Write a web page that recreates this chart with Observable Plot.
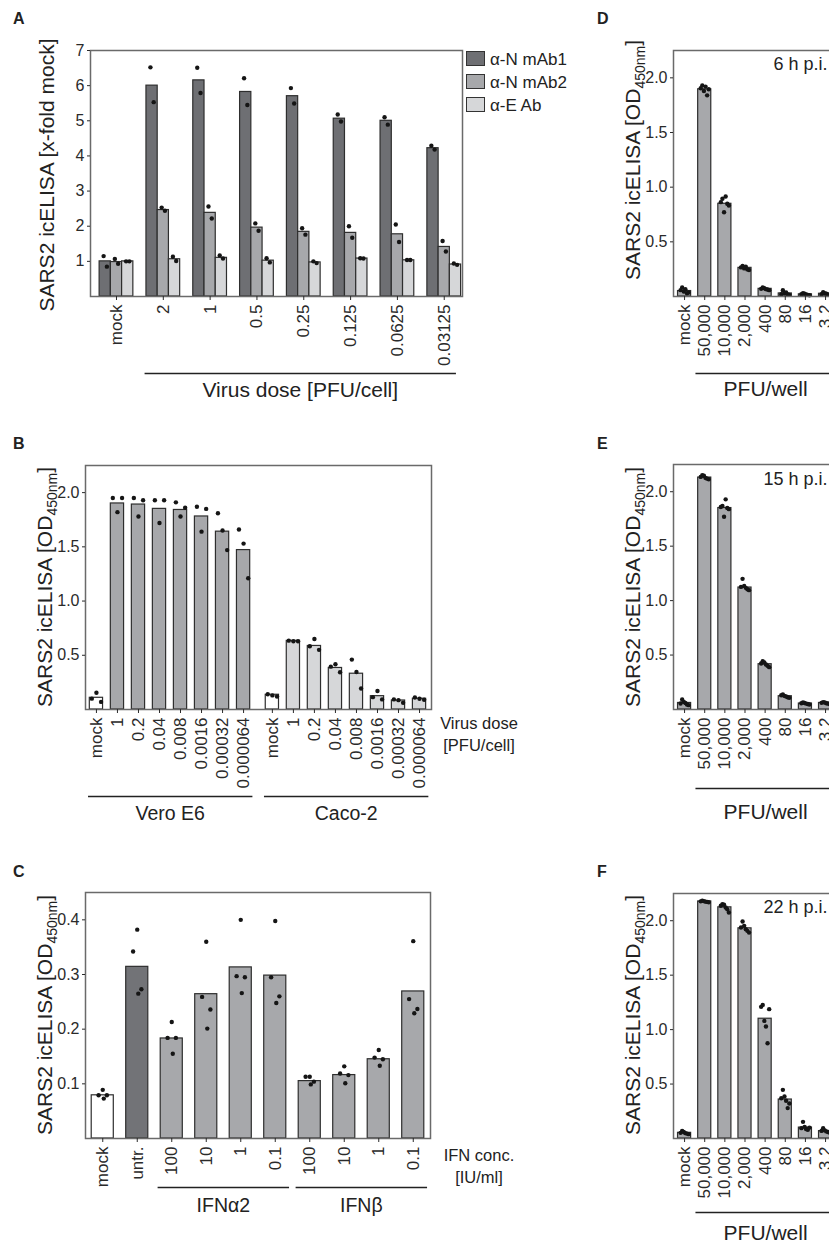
<!DOCTYPE html>
<html><head><meta charset="utf-8">
<script src="https://cdn.jsdelivr.net/npm/d3@7"></script>
<script src="https://cdn.jsdelivr.net/npm/@observablehq/plot@0.6"></script>
<style>
html,body{margin:0;padding:0;background:#fff;overflow:hidden}
#fig{position:relative;width:829px;height:1242px;overflow:hidden;font-family:"Liberation Sans",Arial,sans-serif;color:#222;background:#fff}
.abs{position:absolute;white-space:nowrap}
.letter{font-weight:bold;font-size:16px;line-height:1}
.ylab{font-size:21px;line-height:1;transform:translate(-50%,-50%) rotate(-90deg)}
.sub{font-size:14px;position:relative;top:5px}
.side{font-size:16.5px;text-align:center;transform:translateX(-50%);line-height:22px}
.sw{position:absolute;width:17px;height:13px;border:1px solid #333}
.lg{position:absolute;font-size:17px;line-height:1;transform:translateY(-50%)}
</style></head><body><div id="fig"></div><script>
// ---------- Panel A data ----------
const aGroups = ["mock","2","1","0.5","0.25","0.125","0.0625","0.03125"];
const aSeries = ["α-N mAb1","α-N mAb2","α-E Ab"];
const aMAb1 = [1.0, 6.0, 6.15, 5.82, 5.70, 5.06, 5.0, 4.22];
const aMAb2 = [0.98, 2.46, 2.38, 1.96, 1.84, 1.81, 1.77, 1.41];
const aEAb  = [1.0, 1.06, 1.10, 1.02, 0.97, 1.08, 1.03, 0.91];
const aMAb1Dots = [[1.15,0.85],[6.52,5.53],[6.51,5.79],[6.21,5.45],[5.93,5.49],[5.18,4.98],[5.10,4.89],[4.29,4.18]];
const aMAb2Dots = [[1.07,0.93],[2.53,2.44],[2.56,2.22],[2.08,1.87],[1.94,1.76],[2.0,1.67],[2.05,1.55],[1.58,1.28]];
const aEAbDots  = [[1.0,1.0],[1.13,1.01],[1.17,1.08],[1.09,0.97],[1.0,0.95],[1.09,1.08],[1.04,1.04],[0.94,0.90]];
const aYTicks = [1,2,3,4,5,6,7];

// ---------- Panel B data ----------
const bDoses = ["mock","1","0.2","0.04","0.008","0.0016","0.00032","0.000064"];
const bCells = ["Vero E6","Caco-2"];
const bVeroMeans = [0.108, 1.90, 1.89, 1.85, 1.84, 1.78, 1.64, 1.47];
const bCacoMeans = [0.136, 0.633, 0.586, 0.383, 0.33, 0.123, 0.083, 0.099];
const bVeroDots = [[0.10,0.154,0.07],[1.95,1.82,1.95],[1.95,1.78,1.93],[1.93,1.72,1.93],[1.91,1.78,1.86],[1.87,1.64,1.85],[1.81,1.65,1.47],[1.66,1.53,1.21]];
const bCacoDots = [[0.14,0.13,0.12],[0.635,0.63,0.63],[0.583,0.65,0.55],[0.395,0.417,0.343],[0.46,0.346,0.194],[0.114,0.17,0.093],[0.093,0.086,0.062],[0.111,0.099,0.09]];
const bYTicks = [0.5,1.0,1.5,2.0];

// ---------- Panel C data ----------
const cLabels = ["mock","untr.","100","10","1","0.1","100","10","1","0.1"];
const cTreat = ["mock","untr.","IFNα2","IFNα2","IFNα2","IFNα2","IFNβ","IFNβ","IFNβ","IFNβ"];
const cMeans = [0.079, 0.314, 0.183, 0.264, 0.313, 0.298, 0.105, 0.116, 0.145, 0.269];
const cDots = [[0.089,0.079,0.079,0.073],[0.382,0.342,0.273,0.265],[0.213,0.184,0.184,0.155],[0.36,0.259,0.236,0.201],
               [0.40,0.297,0.295,0.266],[0.398,0.295,0.26,0.248],[0.113,0.113,0.104,0.099],[0.132,0.119,0.116,0.101],
               [0.162,0.148,0.145,0.133],[0.361,0.255,0.237,0.229]];
const cYTicks = [0.1,0.2,0.3,0.4];

// ---------- Panels D/E/F data ----------
const pfuLabels = ["mock","50,000","10,000","2,000","400","80","16","3.2"];
const dfTicks = [0.5,1.0,1.5,2.0];
const dMeans = [0.05, 1.895, 0.848, 0.262, 0.07, 0.028, 0.02, 0.025];
const dDots = [[0.058,0.083,0.046,0.067,0.03,0.037],[1.905,1.93,1.88,1.92,1.84,1.895],[0.863,0.894,0.771,0.915,0.848,0.833],
               [0.266,0.28,0.257,0.272,0.248,0.242],[0.07,0.083,0.076,0.067,0.064,0.058],[0.021,0.058,0.03,0.037,0.018,0.015],
               [0.02,0.03,0.025,0.018,0.015,0.012],[0.02,0.04,0.03,0.025,0.018,0.015]];
const eMeans = [0.06, 2.13, 1.85, 1.12, 0.416, 0.122, 0.055, 0.06];
const eDots = [[0.055,0.092,0.07,0.06,0.046,0.04],[2.136,2.152,2.146,2.127,2.12,2.115],[1.86,1.87,1.77,1.93,1.85,1.84],
               [1.126,1.2,1.135,1.117,1.105,1.096],[0.422,0.444,0.432,0.413,0.401,0.389],[0.131,0.138,0.125,0.12,0.113,0.107],
               [0.057,0.064,0.06,0.054,0.05,0.046],[0.061,0.068,0.064,0.058,0.055,0.05]];
const fMeans = [0.052, 2.177, 2.123, 1.93, 1.10, 0.358, 0.10, 0.068];
const fDots = [[0.052,0.07,0.06,0.049,0.045,0.04],[2.178,2.183,2.18,2.175,2.173,2.17],[2.137,2.152,2.146,2.121,2.106,2.075],
               [1.938,1.993,1.953,1.922,1.907,1.891],[1.209,1.227,1.08,1.028,0.875,1.188],[0.37,0.447,0.386,0.346,0.279,0.321],
               [0.095,0.153,0.107,0.086,0.08,0.1],[0.07,0.095,0.075,0.065,0.06,0.055]];
const timeLabels = ["6 h p.i.","15 h p.i.","22 h p.i."];

// ---------- styling ----------
const FONT = '"Liberation Sans", Arial, sans-serif';
const DARK = "#6e6f73", MID = "#a7a8ab", LIGHT = "#d6d7d9";
const fig = document.getElementById("fig");

function addDiv(cls, left, top, html) {
  const d = document.createElement("div");
  d.className = "abs " + cls;
  d.style.left = left + "px"; d.style.top = top + "px";
  d.innerHTML = html;
  fig.appendChild(d);
  return d;
}

function barChart(o) {
  const marks = [
    Plot.rect(o.bars, {x1: "x1", x2: "x2", y1: d => 0, y2: "v", fill: "fill", stroke: "#2e2e2e", strokeWidth: 1.2}),
    Plot.dot(o.dots, {x: "x", y: "v", r: 2.2, fill: "#151515", stroke: null}),
    Plot.frame({stroke: "#6a6a6a", strokeWidth: 1.5}),
    Plot.axisY(o.yTicks, {tickSize: 3, tickPadding: 3, fontSize: 16, tickFormat: o.yFormat, label: null}),
    Plot.axisX(o.xTicks, {tickSize: 4, tickPadding: 4, tickRotate: -90, fontSize: 17, tickFormat: o.xFormat, label: null}),
    Plot.link(o.groups, {x1: "from", x2: "to", y1: d => 0, y2: d => 0, dy: o.lineDy, stroke: "#222", strokeWidth: 1.3}),
    Plot.text(o.groups, {x: d => (d.from + d.to) / 2, y: d => 0, dy: o.labelDy, text: "label", fontSize: o.groupFont, fill: "#222"}),
    ...(o.extra || [])
  ];
  const chart = Plot.plot({
    width: o.width, height: o.height,
    marginLeft: o.mL, marginTop: o.mT, marginRight: o.mR, marginBottom: o.mB,
    style: {fontFamily: FONT, fontSize: "17px", color: "#2a2a2a", background: "transparent", overflow: "visible", maxWidth: "none"},
    x: {type: "linear", domain: o.xDomain},
    y: {type: "linear", domain: o.yDomain},
    marks
  });
  chart.style.position = "absolute";
  chart.style.left = o.left + "px";
  chart.style.top = o.top + "px";
  chart.style.maxWidth = "none";
  fig.appendChild(chart);
}

// ---------- Panel A ----------
{
  const bars = [], dots = [];
  const means = [aMAb1, aMAb2, aEAb], reps = [aMAb1Dots, aMAb2Dots, aEAbDots];
  const colors = [DARK, MID, LIGHT];
  aGroups.forEach((g, gi) => aSeries.forEach((s, si) => {
    const x1 = gi + (si - 1.5) * 0.24, x2 = x1 + 0.24;
    bars.push({x1, x2, v: means[si][gi], fill: colors[si]});
    reps[si][gi].forEach((v, j) => dots.push({x: (x1 + x2) / 2 + (j - 0.5) * 0.07, v}));
  }));
  barChart({
    left: 0, top: 0, width: 560, height: 400, mL: 90, mT: 50, mR: 98, mB: 104,
    xDomain: [-0.555, 7.39], yDomain: [0, 7],
    bars, dots, yTicks: aYTicks, yFormat: d3.format("d"),
    xTicks: d3.range(aGroups.length), xFormat: i => aGroups[i],
    groups: [{label: "Virus dose [PFU/cell]", from: 1 - 0.4, to: aGroups.length - 1 + 0.25}],
    lineDy: 77, labelDy: 94, groupFont: 21
  });
  // legend
  [DARK, MID, LIGHT].forEach((c, i) => {
    const sw = document.createElement("div");
    sw.className = "sw"; sw.style.left = "466px"; sw.style.top = (51 + i * 23.2) + "px"; sw.style.background = c;
    fig.appendChild(sw);
    addDiv("lg", 490, 58.5 + i * 23.2, aSeries[i]);
  });
}

// ---------- Panel B ----------
{
  const CACO = 8.37, W = 0.63;
  const bars = [], dots = [], ticks = [];
  [[bVeroMeans, bVeroDots, MID], [bCacoMeans, bCacoDots, LIGHT]].forEach(([means, reps, col], ci) => {
    bDoses.forEach((dname, i) => {
      const x = i + ci * CACO;
      ticks.push(x);
      bars.push({x1: x - W / 2, x2: x + W / 2, v: means[i], fill: i === 0 ? "#ffffff" : col});
      reps[i].forEach((v, j) => dots.push({x: x + (j - 1) * 0.22, v}));
    });
  });
  barChart({
    left: 0, top: 400, width: 560, height: 440, mL: 85, mT: 65, mR: 129, mB: 131,
    xDomain: [-0.52, 15.94], yDomain: [0, 2.25],
    bars, dots, yTicks: bYTicks, yFormat: d3.format(".1f"),
    xTicks: ticks, xFormat: v => bDoses[Math.round(v >= CACO - 0.5 ? v - CACO : v)],
    groups: bCells.map((c, ci) => ({label: c, from: ci * CACO - 0.4, to: ci * CACO + bDoses.length - 1 + 0.42})),
    lineDy: 87, labelDy: 104, groupFont: 19.5
  });
  addDiv("side", 479, 712, "Virus dose<br>[PFU/cell]");
}

// ---------- Panel C ----------
{
  const W = 0.64;
  const offs = [0, -0.12, 0.12, 0.03];
  const bars = [], dots = [];
  cLabels.forEach((l, i) => {
    const fill = cTreat[i] === "mock" ? "#ffffff" : cTreat[i] === "untr." ? "#727377" : MID;
    bars.push({x1: i - W / 2, x2: i + W / 2, v: cMeans[i], fill});
    cDots[i].forEach((v, j) => dots.push({x: i + offs[j], v}));
  });
  const groups = ["IFNα2", "IFNβ"].map(t => {
    const idx = cTreat.map((d, i) => d === t ? i : -1).filter(i => i >= 0);
    return {label: t, from: idx[0] - 0.41, to: idx[idx.length - 1] + 0.4};
  });
  barChart({
    left: 0, top: 840, width: 560, height: 402, mL: 85, mT: 52, mR: 130, mB: 104,
    xDomain: [-0.5, 9.5], yDomain: [0, 0.45],
    bars, dots, yTicks: cYTicks, yFormat: d3.format(".1f"),
    xTicks: d3.range(cLabels.length), xFormat: i => cLabels[i],
    groups, lineDy: 49, labelDy: 67, groupFont: 19.5
  });
  addDiv("side", 479, 1144, "IFN conc.<br>[IU/ml]");
}

// ---------- Panels D, E, F ----------
{
  const W = 0.65;
  const offs = [-0.2, -0.12, -0.04, 0.04, 0.12, 0.2];
  const specs = [
    {means: dMeans, reps: dDots, top: 0, height: 400, mT: 50, mB: 104, lineDy: 77, labelDy: 93, tdy: 7},
    {means: eMeans, reps: eDots, top: 400, height: 440, mT: 64, mB: 131, lineDy: 79, labelDy: 103, tdy: 8},
    {means: fMeans, reps: fDots, top: 840, height: 402, mT: 53, mB: 104, lineDy: 74, labelDy: 95, tdy: 7}
  ];
  specs.forEach((s, k) => {
    const bars = [], dots = [];
    pfuLabels.forEach((l, i) => {
      bars.push({x1: i - W / 2, x2: i + W / 2, v: s.means[i], fill: MID});
      s.reps[i].forEach((v, j) => dots.push({x: i + offs[j], v}));
    });
    barChart({
      left: 560, top: s.top, width: 290, height: s.height, mL: 113, mT: s.mT, mR: 5, mB: s.mB,
      xDomain: [-0.55, 7.99], yDomain: [0, 2.25],
      bars, dots, yTicks: dfTicks, yFormat: d3.format(".1f"),
      xTicks: d3.range(pfuLabels.length), xFormat: i => pfuLabels[i],
      groups: [{label: "PFU/well", from: 1 - 0.46, to: pfuLabels.length - 1 + 0.5}],
      lineDy: s.lineDy, labelDy: s.labelDy, groupFont: 21,
      extra: [Plot.text([timeLabels[k]], {frameAnchor: "top-right", lineAnchor: "top", dx: -18, dy: s.tdy, fontSize: 18, fill: "#222"})]
    });
  });
}

// ---------- panel letters and y labels ----------
[["A",13,11],["B",13,436],["C",13,864],["D",597,11],["E",597,436],["F",597,864]].forEach(([t,x,y]) => addDiv("letter", x, y, t));
const odLabel = 'SARS2 icELISA [OD<span class="sub">450nm</span>]';
addDiv("ylab", 46, 174.5, "SARS2 icELISA [x-fold mock]");
addDiv("ylab", 44, 587, odLabel);
addDiv("ylab", 44, 1015, odLabel);
addDiv("ylab", 632, 160, odLabel);
addDiv("ylab", 632, 587, odLabel);
addDiv("ylab", 632, 1015, odLabel);
</script></body></html>
